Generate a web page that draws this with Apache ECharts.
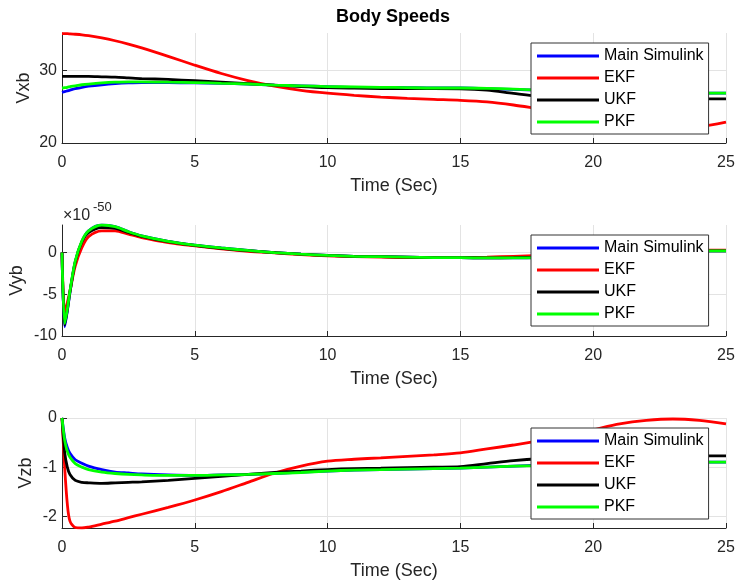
<!DOCTYPE html>
<html>
<head>
<meta charset="utf-8">
<script src="https://cdn.jsdelivr.net/npm/echarts@6/dist/echarts.min.js"></script>
<style>html,body{margin:0;padding:0;background:#fff;}#c{width:737px;height:586px;}</style>
</head>
<body>
<div id="c"></div>
<script>
const time = [0, 0.1, 0.2, 0.3, 0.5, 0.75, 1, 1.5, 2, 2.5, 3, 4, 5, 6, 7, 8, 9, 10, 11, 12, 13, 14, 15, 16, 17, 18, 19, 20, 21, 22, 23, 24, 25];
const seriesNames = ['Main Simulink', 'EKF', 'UKF', 'PKF'];
const xTicks = [0, 5, 10, 15, 20, 25];
const vxbTicks = [20, 30];
const vybTicks = [-10, -5, 0];
const vzbTicks = [-2, -1, 0];

// Vxb
const vxbMain = [27.0, 27.1, 27.2, 27.3, 27.5, 27.7, 27.85, 28.05, 28.2, 28.3, 28.35, 28.35, 28.3, 28.25, 28.15, 28.0, 27.9, 27.8, 27.7, 27.7, 27.65, 27.6, 27.6, 27.5, 27.4, 27.3, 27.2, 27.1, 27.0, 27.0, 26.95, 26.9, 26.9];
const vxbEKF = [35.1, 35.1, 35.1, 35.08, 35.03, 34.95, 34.83, 34.52, 34.13, 33.67, 33.15, 31.98, 30.75, 29.6, 28.62, 27.85, 27.28, 26.88, 26.58, 26.35, 26.17, 26.03, 25.9, 25.68, 25.25, 24.7, 24.18, 23.72, 23.3, 22.9, 22.55, 22.35, 22.9];
const vxbUKF = [29.2, 29.2, 29.2, 29.2, 29.2, 29.2, 29.2, 29.15, 29.1, 29.0, 28.9, 28.78, 28.6, 28.4, 28.2, 28.0, 27.8, 27.65, 27.58, 27.53, 27.5, 27.5, 27.48, 27.3, 26.85, 26.45, 26.3, 26.22, 26.2, 26.18, 26.16, 26.12, 26.1];
const vxbPKF = [27.6, 27.65, 27.7, 27.8, 27.9, 28.05, 28.15, 28.3, 28.4, 28.45, 28.45, 28.4, 28.35, 28.25, 28.15, 28.0, 27.9, 27.8, 27.75, 27.7, 27.65, 27.6, 27.6, 27.55, 27.45, 27.3, 27.2, 27.1, 27.05, 27.0, 26.95, 26.9, 26.9];

// Vyb (x 1e-50)
const vybMain = [0, -8.9, -7.0, -4.8, -1.1, 1.3, 2.6, 3.3, 3.1, 2.5, 2.0, 1.35, 0.9, 0.55, 0.25, 0.0, -0.2, -0.35, -0.45, -0.5, -0.55, -0.6, -0.62, -0.65, -0.65, -0.6, -0.45, -0.3, -0.15, 0.0, 0.1, 0.2, 0.2];
const vybEKF = [0, -7.2, -6.0, -4.6, -1.6, 0.6, 1.9, 2.6, 2.6, 2.2, 1.8, 1.2, 0.8, 0.45, 0.15, -0.05, -0.25, -0.4, -0.5, -0.55, -0.6, -0.6, -0.6, -0.55, -0.45, -0.35, -0.25, -0.1, 0.0, 0.1, 0.2, 0.25, 0.3];
const vybUKF = [0, -8.7, -6.9, -4.7, -1.1, 1.3, 2.4, 3.0, 2.9, 2.4, 1.95, 1.3, 0.85, 0.5, 0.22, 0.0, -0.2, -0.35, -0.45, -0.5, -0.55, -0.6, -0.62, -0.63, -0.62, -0.55, -0.42, -0.28, -0.12, 0.0, 0.1, 0.18, 0.2];
const vybPKF = [0, -8.5, -6.8, -4.6, -1.0, 1.4, 2.6, 3.3, 3.1, 2.5, 2.0, 1.35, 0.9, 0.55, 0.25, 0.0, -0.2, -0.35, -0.45, -0.5, -0.55, -0.6, -0.62, -0.65, -0.65, -0.6, -0.45, -0.3, -0.15, 0.0, 0.1, 0.2, 0.2];

// Vzb
const vzbMain = [0, -0.4, -0.6, -0.72, -0.85, -0.92, -0.98, -1.05, -1.1, -1.12, -1.14, -1.16, -1.17, -1.16, -1.15, -1.13, -1.1, -1.08, -1.06, -1.05, -1.04, -1.03, -1.02, -1.0, -0.98, -0.96, -0.95, -0.93, -0.92, -0.91, -0.9, -0.9, -0.9];
const vzbEKF = [0, -1.0, -1.75, -2.1, -2.23, -2.24, -2.22, -2.16, -2.1, -2.03, -1.96, -1.82, -1.67, -1.5, -1.31, -1.12, -0.98, -0.88, -0.84, -0.81, -0.78, -0.75, -0.71, -0.63, -0.55, -0.46, -0.36, -0.24, -0.12, -0.05, -0.02, -0.05, -0.12];
const vzbUKF = [0, -0.7, -1.0, -1.15, -1.27, -1.31, -1.32, -1.33, -1.32, -1.31, -1.3, -1.27, -1.23, -1.19, -1.15, -1.11, -1.08, -1.05, -1.03, -1.02, -1.01, -1.0, -0.99, -0.93, -0.87, -0.83, -0.81, -0.8, -0.79, -0.78, -0.78, -0.77, -0.77];
const vzbPKF = [0, -0.45, -0.68, -0.8, -0.93, -1.0, -1.05, -1.1, -1.13, -1.15, -1.16, -1.17, -1.17, -1.16, -1.15, -1.13, -1.11, -1.08, -1.06, -1.05, -1.04, -1.03, -1.02, -1.0, -0.98, -0.97, -0.95, -0.94, -0.92, -0.91, -0.9, -0.9, -0.9];

const colors = ['#0000ff', '#ff0000', '#000000', '#00ff00'];
const FONT = '"Liberation Sans", Arial, Helvetica, sans-serif';
const AX = '#262626';

const panels = [
  {name: 'Vxb', data: [vxbMain, vxbEKF, vxbUKF, vxbPKF], min: 20, max: 35.2, ticks: vxbTicks, top: 33, height: 110, gap: 29},
  {name: 'Vyb', data: [vybMain, vybEKF, vybUKF, vybPKF], min: -10, max: 3.3, ticks: vybTicks, top: 225, height: 111, gap: 36},
  {name: 'Vzb', data: [vzbMain, vzbEKF, vzbUKF, vzbPKF], min: -2.24, max: 0, ticks: vzbTicks, top: 418, height: 110, gap: 27}
];

const grids = [], xAxes = [], yAxes = [], series = [], legends = [];
panels.forEach((p, i) => {
  grids.push({left: 62, top: p.top, width: 664, height: p.height, containLabel: false, outerBoundsMode: 'none'});
  xAxes.push({
    type: 'value', gridIndex: i, min: 0, max: 25, interval: 5,
    name: 'Time (Sec)', nameLocation: 'middle', nameGap: 34,
    nameTextStyle: {fontSize: 18, color: AX, fontFamily: FONT},
    axisLine: {onZero: false, lineStyle: {color: AX, width: 1}},
    axisTick: {inside: true, length: 5, lineStyle: {color: AX}, customValues: xTicks},
    axisLabel: {fontSize: 16, color: AX, fontFamily: FONT, margin: 12, customValues: xTicks},
    splitLine: {show: true, lineStyle: {color: '#e3e3e3', width: 1}}
  });
  yAxes.push({
    type: 'value', gridIndex: i, min: p.min, max: p.max,
    name: p.name, nameLocation: 'middle', nameGap: p.gap, nameRotate: 90, nameMoveOverlap: false,
    nameTextStyle: {fontSize: 18, color: AX, fontFamily: FONT},
    axisLine: {show: true, onZero: false, lineStyle: {color: AX, width: 1}},
    axisTick: {show: true, inside: true, length: 5, lineStyle: {color: AX}, customValues: p.ticks},
    axisLabel: {fontSize: 16, color: AX, fontFamily: FONT, margin: 5, customValues: p.ticks},
    splitLine: {show: true, lineStyle: {color: '#e3e3e3', width: 1}}
  });
  seriesNames.forEach((n, k) => {
    series.push({
      type: 'line', name: n, xAxisIndex: i, yAxisIndex: i,
      data: time.map((t, j) => [t, p.data[k][j]]),
      showSymbol: false, smooth: 0.3,
      lineStyle: {color: colors[k], width: 2.8}, itemStyle: {color: colors[k]},
      animation: false, z: 2 + k
    });
  });
  legends.push({
    orient: 'vertical', left: 531, top: p.top + 10,
    data: seriesNames, icon: 'rect', itemWidth: 62, itemHeight: 3, itemGap: 6,
    padding: [5, 5, 4, 6], backgroundColor: '#ffffff', borderColor: '#333333', borderWidth: 1,
    textStyle: {fontSize: 16, color: '#000', fontFamily: FONT}, selectedMode: false, z: 10
  });
});

const chart = echarts.init(document.getElementById('c'), null, {renderer: 'canvas'});
chart.setOption({
  backgroundColor: '#ffffff',
  animation: false,
  color: colors,
  title: {text: 'Body Speeds', left: 336, top: 8, padding: 0,
    textStyle: {fontSize: 18, fontWeight: 'bold', color: '#000', fontFamily: FONT}},
  grid: grids, xAxis: xAxes, yAxis: yAxes, series: series, legend: legends,
  graphic: [
    {type: 'text', left: 63, top: 208, style: {text: '\u00d710', fontSize: 16, fill: AX, fontFamily: FONT}},
    {type: 'text', left: 93, top: 201, style: {text: '-50', fontSize: 13, fill: AX, fontFamily: FONT}}
  ]
});
</script>
</body>
</html>
